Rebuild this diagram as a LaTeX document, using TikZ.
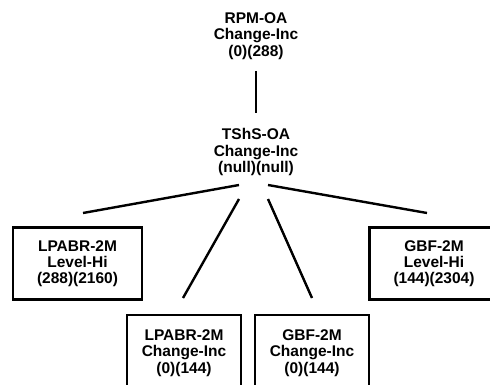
\documentclass[tikz,border=0pt]{standalone}
\usepackage{fontspec}
\setmainfont{Liberation Sans}
\begin{document}
\begin{tikzpicture}[x=1pt,y=-1pt,
  label/.style={align=center,inner sep=0pt,font=\fontsize{15.5}{16.2}\selectfont\bfseries},
  unit/.style={label,draw,line width=2.6pt,minimum width=129pt,minimum height=72pt},
  subunit/.style={label,draw,line width=2.6pt,minimum width=114pt,minimum height=76pt},
  link/.style={line width=2.4pt}]
\useasboundingbox (0,0) rectangle (490,385);
\clip (0,0) rectangle (490,385);
\fill[white] (0,0) rectangle (490,385);

% top of the tree
\node[label] (rpm) at (256,36) {RPM-OA\\Change-Inc\\(0)(288)};
\node[label] (tshs) at (256,152) {TShS-OA\\Change-Inc\\(null)(null)};

% leaves
\node[unit] (lpabrhi) at (77.5,263.5) {LPABR-2M\\Level-Hi\\(288)(2160)};
\node[unit] (gbfhi) at (434,263.5) {GBF-2M\\Level-Hi\\(144)(2304)};
\node[subunit] (lpabrci) at (184,353) {LPABR-2M\\Change-Inc\\(0)(144)};
\node[subunit] (gbfci) at (312,353) {GBF-2M\\Change-Inc\\(0)(144)};

% connector end points
\coordinate (rpm-b) at (256,71);
\coordinate (tshs-t) at (256,113);
\coordinate (tshs-l) at (239,185);
\coordinate (tshs-ml) at (239,199);
\coordinate (tshs-mr) at (268,199);
\coordinate (tshs-r) at (268,185);
\coordinate (lpabrhi-t) at (83,213);
\coordinate (lpabrci-t) at (183,298);
\coordinate (gbfci-t) at (312,298);
\coordinate (gbfhi-t) at (427,213);

\draw[link] (rpm-b) -- (tshs-t);
\draw[link] (tshs-l) -- (lpabrhi-t);
\draw[link] (tshs-ml) -- (lpabrci-t);
\draw[link] (tshs-mr) -- (gbfci-t);
\draw[link] (tshs-r) -- (gbfhi-t);
\end{tikzpicture}
\end{document}
